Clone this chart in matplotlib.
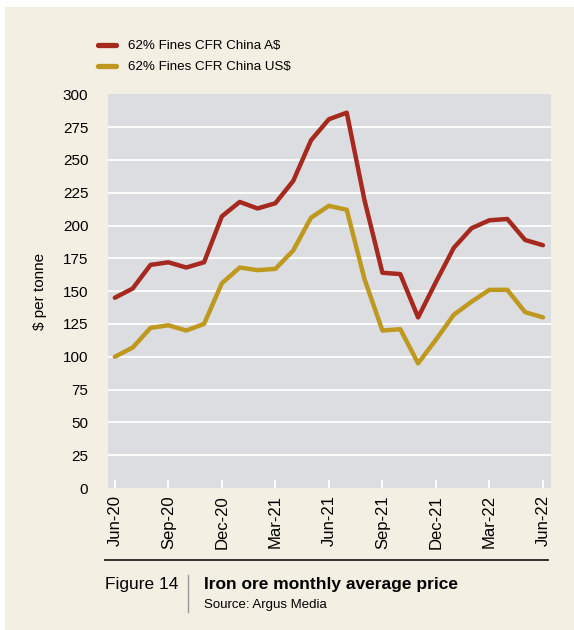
import matplotlib
matplotlib.use("Agg")
import matplotlib.pyplot as plt
from matplotlib.lines import Line2D
from matplotlib.patches import Rectangle

# ---- data ----
months = ["Jun-20", "Jul-20", "Aug-20", "Sep-20", "Oct-20", "Nov-20", "Dec-20",
          "Jan-21", "Feb-21", "Mar-21", "Apr-21", "May-21", "Jun-21", "Jul-21",
          "Aug-21", "Sep-21", "Oct-21", "Nov-21", "Dec-21", "Jan-22", "Feb-22",
          "Mar-22", "Apr-22", "May-22", "Jun-22"]
aud = [145, 152, 170, 172, 168, 172, 207, 218, 213, 217, 234, 265, 281, 286,
       219, 164, 163, 130, 157, 183, 198, 204, 205, 189, 185]
usd = [100, 107, 122, 124, 120, 125, 156, 168, 166, 167, 181, 206, 215, 212,
       159, 120, 121, 95, 113, 132, 142, 151, 151, 134, 130]
tick_labels = ["Jun-20", "Sep-20", "Dec-20", "Mar-21", "Jun-21", "Sep-21",
               "Dec-21", "Mar-22", "Jun-22"]
series_names = ["62% Fines CFR China A$", "62% Fines CFR China US$"]
yticks = list(range(0, 301, 25))

RED = "#a5291f"
GOLD = "#be981f"
CREAM = "#f3efe2"
PLOTBG = "#dcdde0"
FONT = ["Liberation Sans", "DejaVu Sans"]

W, H = 574, 630
fig = plt.figure(figsize=(W / 100, H / 100), dpi=100, facecolor="white")

def fx(p):
    return p / W

def fy(p):
    return 1 - p / H

# cream background panel
fig.patches.append(Rectangle((fx(5), 0), 1 - fx(5), fy(7), transform=fig.transFigure,
                             facecolor=CREAM, edgecolor="none", zorder=-10))

left, right, top, bottom = 107.7, 551, 94.3, 488
ax = fig.add_axes([fx(left), fy(bottom), fx(right - left), (bottom - top) / H])
ax.set_facecolor(PLOTBG)
for s in ax.spines.values():
    s.set_visible(False)

x = list(range(len(months)))
ax.plot(x, aud, color=RED, lw=3.2, solid_joinstyle="round", solid_capstyle="round", zorder=3)
ax.plot(x, usd, color=GOLD, lw=3.2, solid_joinstyle="round", solid_capstyle="round", zorder=3)

ax.set_ylim(0, 300)
ax.set_xlim(-0.4, 24.45)
ax.set_yticks(yticks)
ax.set_yticklabels([str(v) for v in yticks], fontfamily=FONT, fontsize=11)
ax.tick_params(axis="y", length=0, pad=14)
for v in yticks[1:-1]:
    ax.axhline(v, color="white", lw=1.3, zorder=1)

tick_pos = [months.index(t) for t in tick_labels]
ax.set_xticks(tick_pos)
ax.set_xticklabels(tick_labels, rotation=90, fontfamily=FONT, fontsize=12)
ax.tick_params(axis="x", direction="in", length=6, width=1.3, color="white", pad=5)

fig.text(fx(40), fy(291), "$ per tonne", rotation=90, ha="center", va="center",
         fontfamily=FONT, fontsize=11)

# legend
for i, (name, col) in enumerate(zip(series_names, [RED, GOLD])):
    yy = 45 + 20.5 * i
    fig.add_artist(Line2D([fx(98), fx(116)], [fy(yy), fy(yy)], transform=fig.transFigure,
                          color=col, lw=3.8, solid_capstyle="round"))
    fig.text(fx(128), fy(yy + 1.5), name, ha="left", va="center",
             fontfamily=FONT, fontsize=9.6)

# caption
fig.add_artist(Line2D([fx(105), fx(548)], [fy(560), fy(560)], transform=fig.transFigure,
                      color="#222222", lw=1.3))
fig.add_artist(Line2D([fx(187.5), fx(187.5)], [fy(575), fy(612)], transform=fig.transFigure,
                      color="#999999", lw=1))
fig.text(fx(105), fy(584), "Figure 14", ha="left", va="center", fontfamily=FONT, fontsize=12.5)
fig.text(fx(204), fy(584), "Iron ore monthly average price", ha="left", va="center",
         fontfamily=FONT, fontsize=12.5, fontweight="bold")
fig.text(fx(204), fy(605), "Source: Argus Media", ha="left", va="center",
         fontfamily=FONT, fontsize=9.5)

fig.savefig("out.png", dpi=100, facecolor=fig.get_facecolor())
